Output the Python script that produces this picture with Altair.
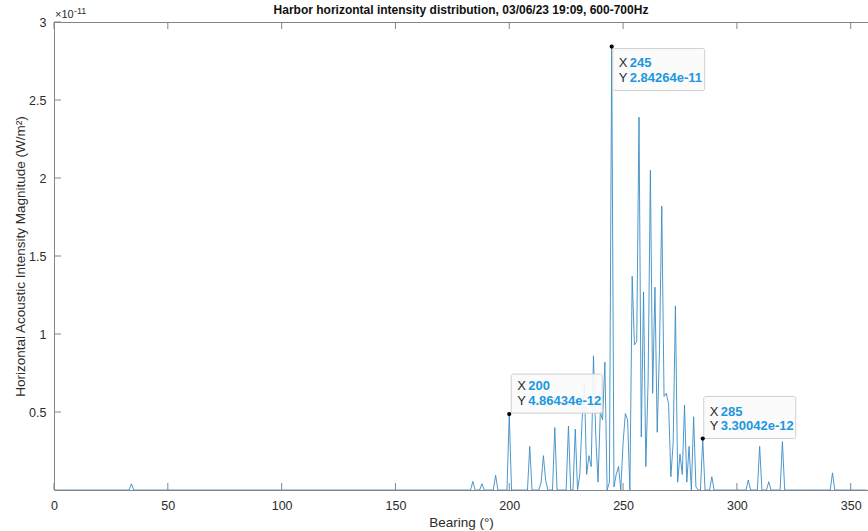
import altair as alt
import pandas as pd

# Bearings (degrees) where the horizontal intensity is above zero, and the
# matching magnitudes in W/m^2. Every other bearing 0..357 sits at zero.
peak_bearings = [
    34, 184, 188, 194, 200, 209, 214, 215, 216, 220, 226, 229,
    231, 232, 233, 234, 235, 236, 237, 238, 239, 240, 241, 242, 244,
    245, 246, 247, 248, 250, 251, 252, 254, 255, 256, 257, 258, 259,
    260, 261, 262, 263, 264, 265, 266, 267, 268, 269, 270, 271, 272,
    273, 274, 275, 276, 277, 278, 279, 281, 282, 285, 289, 305, 310,
    314, 320, 342,
]
peak_values_e11 = [
    0.04, 0.055, 0.04, 0.095, 0.486434, 0.28, 0.05, 0.22, 0.06, 0.40, 0.41, 0.39,
    0.10, 0.45, 0.68, 0.10, 0.22, 0.15, 0.86, 0.35, 0.05, 0.50, 0.45, 0.82, 0.05,
    2.84264, 0.02, 0.10, 0.15, 0.30, 0.49, 0.45, 1.37, 0.93, 0.95, 2.39, 0.34, 1.27,
    0.15, 0.70, 2.05, 0.62, 1.30, 0.37, 0.90, 1.82, 0.60, 0.62, 0.55, 0.085, 0.30,
    1.18, 0.05, 0.23, 0.10, 0.545, 0.05, 0.28, 0.47, 0.02, 0.330042, 0.085, 0.064, 0.28,
    0.053, 0.31, 0.11,
]

# Data tips shown on the plot: bearing and magnitude
tip_bearings = [200, 245, 285]
tip_values = [4.86434e-12, 2.84264e-11, 3.30042e-12]
tip_labels = ["4.86434e-12", "2.84264e-11", "3.30042e-12"]

x_ticks = [0, 50, 100, 150, 200, 250, 300, 350]
y_ticks = [0.5e-11, 1e-11, 1.5e-11, 2e-11, 2.5e-11, 3e-11]

TITLE = "Harbor horizontal intensity distribution, 03/06/23 19:09, 600-700Hz"
X_MAX = 357.6
W, H = 814, 468
FONT = "Liberation Sans"
LINE_BLUE = "#3a8cc4"
AXIS_GREY = "#858585"
TEXT_DARK = "#2b2b2b"
TIP_BLUE = "#1c97e0"

values_by_bearing = {b: v * 1e-11 for b, v in zip(peak_bearings, peak_values_e11)}
for b, v in zip(tip_bearings, tip_values):
    values_by_bearing[b] = v
bearings = list(range(0, 358))
df = pd.DataFrame({
    "bearing": bearings,
    "intensity": [values_by_bearing.get(b, 0.0) for b in bearings],
})

x_scale = alt.Scale(domain=[0, X_MAX], nice=False, zero=False)
y_scale = alt.Scale(domain=[0, 3e-11], nice=False)

line = alt.Chart(df).mark_line(color=LINE_BLUE, strokeWidth=0.9, clip=True).encode(
    x=alt.X("bearing:Q", scale=x_scale,
            axis=alt.Axis(values=x_ticks, title="Bearing (°)", grid=False, ticks=False,
                          labelPadding=9, titlePadding=4, labelFontSize=12.5,
                          titleFontSize=13.5, titleFontWeight="normal",
                          domainColor=AXIS_GREY, labelColor=TEXT_DARK,
                          titleColor=TEXT_DARK, labelFont=FONT, titleFont=FONT,
                          labelFlush=False)),
    y=alt.Y("intensity:Q", scale=y_scale,
            axis=alt.Axis(values=y_ticks, title="Horizontal Acoustic Intensity Magnitude (W/m²)",
                          labelExpr="format(datum.value * 1e11, '.1~f')",
                          grid=False, ticks=False, labelPadding=8,
                          titleX=-27, titleY=H / 2,
                          labelFontSize=12.5, titleFontSize=13.5, titleFontWeight="normal",
                          domainColor=AXIS_GREY, labelColor=TEXT_DARK, titleColor=TEXT_DARK,
                          labelFont=FONT, titleFont=FONT)),
)

one = df.head(1)

# Box outline along the top edge
top_edge = alt.Chart(one).mark_rule(color=AXIS_GREY, strokeWidth=1).encode(
    x=alt.value(0), x2=alt.value(W), y=alt.value(0.5)
)

# Inward tick marks on the bottom, top and left edges
xt = pd.DataFrame({"t": x_ticks})
yt = pd.DataFrame({"t": y_ticks})
ticks_bottom = alt.Chart(xt).mark_rule(color=AXIS_GREY).encode(
    x=alt.X("t:Q", scale=x_scale), y=alt.value(H), y2=alt.value(H - 7)
)
ticks_top = alt.Chart(xt).mark_rule(color=AXIS_GREY).encode(
    x=alt.X("t:Q", scale=x_scale), y=alt.value(0), y2=alt.value(7)
)
ticks_left = alt.Chart(yt).mark_rule(color=AXIS_GREY).encode(
    y=alt.Y("t:Q", scale=y_scale), x=alt.value(0), x2=alt.value(7)
)

# Chart title
title = alt.Chart(one).mark_text(
    text=TITLE, align="center", baseline="middle", font=FONT, fontSize=12,
    fontWeight="bold", color="#111111"
).encode(x=alt.value(W / 2), y=alt.value(-12))

# Axis exponent
exp_base = alt.Chart(one).mark_text(
    text="×10", align="left", baseline="middle", font=FONT, fontSize=11, color=TEXT_DARK
).encode(x=alt.value(1), y=alt.value(-7))
exp_power = alt.Chart(one).mark_text(
    text="-11", align="left", baseline="middle", font=FONT, fontSize=9, color=TEXT_DARK
).encode(x=alt.value(20), y=alt.value(-11.5))

# Data tips: box offsets (dx0, dx1, dy0, dy1) and text row offsets
tip_layout = [
    {"box": (2, 93, -40, -1), "rows": (-28, -13)},
    {"box": (1, 93, 2, 44), "rows": (16, 31)},
    {"box": (1, 93, -42, 0), "rows": (-27, -13)},
]

tip_layers = []
for b, v, lab, lay in zip(tip_bearings, tip_values, tip_labels, tip_layout):
    tdf = pd.DataFrame({"bearing": [b], "intensity": [v], "xs": [str(b)], "ys": [lab]})
    base = alt.Chart(tdf).encode(
        x=alt.X("bearing:Q", scale=x_scale), y=alt.Y("intensity:Q", scale=y_scale)
    )
    dx0, dx1, dy0, dy1 = lay["box"]
    r1, r2 = lay["rows"]
    box = alt.Chart(tdf).mark_rect(
        fill="#fbfbfb", fillOpacity=0.92, stroke="#cfcfcf", strokeWidth=1, cornerRadius=2,
        xOffset=dx0, x2Offset=dx1, yOffset=dy0, y2Offset=dy1,
    ).encode(
        x=alt.X("bearing:Q", scale=x_scale), x2="bearing:Q",
        y=alt.Y("intensity:Q", scale=y_scale), y2="intensity:Q",
    )
    dot = base.mark_circle(color="black", size=18, opacity=1)
    common = dict(align="left", baseline="middle", font=FONT, fontSize=13)
    x_key = base.mark_text(text="X", dx=dx0 + 6, dy=r1, color=TEXT_DARK, **common)
    y_key = base.mark_text(text="Y", dx=dx0 + 6, dy=r2, color=TEXT_DARK, **common)
    x_val = base.mark_text(dx=dx0 + 17, dy=r1, color=TIP_BLUE, fontWeight="bold",
                           **common).encode(text="xs:N")
    y_val = base.mark_text(dx=dx0 + 17, dy=r2, color=TIP_BLUE, fontWeight="bold",
                           **common).encode(text="ys:N")
    tip_layers += [box, dot, x_key, y_key, x_val, y_val]

chart = alt.layer(
    line, top_edge, ticks_bottom, ticks_top, ticks_left, title, exp_base, exp_power,
    *tip_layers
).properties(
    width=W,
    height=H,
    autosize=alt.AutoSizeParams(type="none"),
    padding={"left": 54, "top": 22, "right": 0, "bottom": 41},
).configure_view(stroke=None).configure(background="white")

chart.save("out.html", embed_options={"renderer": "svg", "actions": False})
